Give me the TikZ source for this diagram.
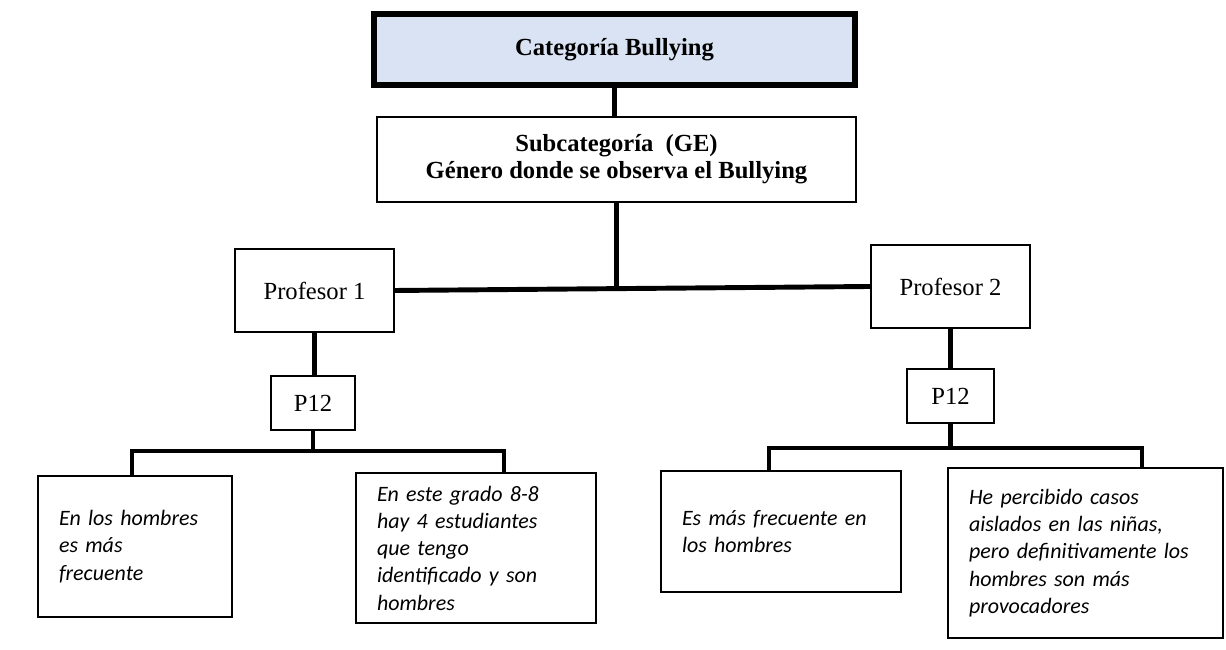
\documentclass[tikz,border=0pt]{standalone}
\usepackage{fontspec}
\setmainfont{Liberation Serif}
\newfontfamily\calibri{Carlito}
\usepackage{tikz}

\definecolor{azulclaro}{HTML}{DAE3F3}

\begin{document}
\begin{tikzpicture}
			\useasboundingbox (0,0) rectangle (24.52,13);
			\tikzstyle{every node}=[];
			\tikzstyle{caja}=[draw, line width=1.3pt, font=\fontsize{14}{16}\selectfont, inner sep=0pt];
			\tikzstyle{cita}=[draw, line width=1.3pt, font=\calibri\itshape\fontsize{12.5}{15.5}\selectfont, align=left, inner xsep=0.42cm, inner ysep=0pt];
			\tikzstyle{linea}=[line width=2.8pt];
			% categoria y subcategoria
			\path (12.29,12.0) node[caja, fill=azulclaro, line width=3.4pt, minimum width=9.62cm, minimum height=1.42cm] (v0) {\textbf{Categoría Bullying}};
			\path (12.33,9.81) node[caja, align=center, minimum width=9.58cm, minimum height=1.7cm] (v1) {\textbf{Subcategoría~ (GE)}\\[-0.5pt]\textbf{Género donde se observa el Bullying}};
			% profesores
			\path (6.29,7.19) node[caja, minimum width=3.18cm, minimum height=1.66cm] (v2) {Profesor 1};
			\path (19.01,7.27) node[caja, minimum width=3.18cm, minimum height=1.66cm] (v3) {Profesor 2};
			\path (6.26,4.94) node[caja, minimum width=1.68cm, minimum height=1.08cm] (v4) {P12};
			\path (19.01,5.08) node[caja, minimum width=1.74cm, minimum height=1.08cm] (v5) {P12};
			% respuestas
			\path (2.70,2.07) node[cita, text width=3.04cm, minimum height=2.82cm] (v6) {En los hombres\\es más\\frecuente};
			\path (9.52,2.04) node[cita, text width=3.96cm, minimum height=3.0cm] (v7) {En este grado 8-8\\hay 4 estudiantes\\que tengo\\identificado y son\\hombres};
			\path (15.62,2.37) node[cita, text width=3.96cm, minimum height=2.42cm] (v8) {Es más frecuente en\\los hombres};
			\path (21.71,1.94) node[cita, text width=4.66cm, minimum height=3.4cm] (v9) {He percibido casos\\aislados en las niñas,\\pero definitivamente los\\hombres son más\\provocadores};
			\coordinate (j1) at (6.26,3.98);
			\coordinate (d1) at (2.64,3.98);
			\coordinate (d2) at (10.08,3.98);
			\coordinate (j2) at (19.01,4.04);
			\coordinate (d3) at (15.38,4.04);
			\coordinate (d4) at (22.84,4.04);
			\draw[linea] (v0.south) -- (v0.south |- v1.north);
			\draw[linea] (v2.east) -- (v3.west);
			\draw[linea] (v1.south) -- (v1.south |- v3.west);
			\draw[linea] (v2.south) -- (v2.south |- v4.north);
			\draw[linea] (v3.south) -- (v3.south |- v5.north);
			\draw[linea] (v4) -- (j1);
			\draw[linea] (v5) -- (j2);
			\draw[linea] (d1 |- v6.north) -- (d1) -- (d2) -- (d2 |- v7.north);
			\draw[linea] (d3 |- v8.north) -- (d3) -- (d4) -- (d4 |- v9.north);
			\end{tikzpicture}
\end{document}
